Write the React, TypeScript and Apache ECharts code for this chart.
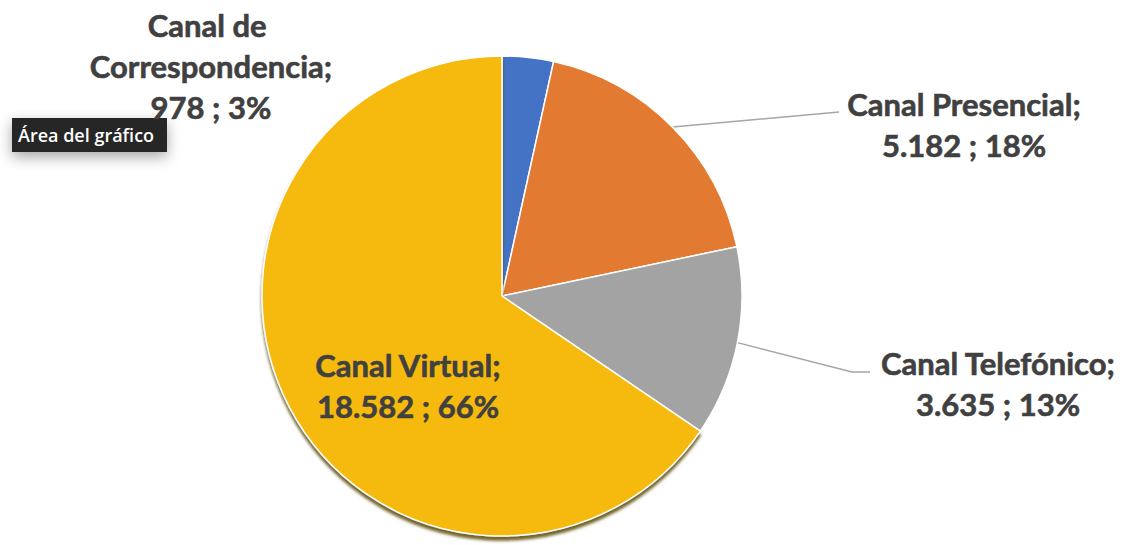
import React, { useEffect, useRef } from "react";
import * as echarts from "echarts";

const categories = ["Canal de Correspondencia", "Canal Presencial", "Canal Telefónico", "Canal Virtual"];
const values = [978, 5182, 3635, 18582];
const colors = ["#4472C4", "#E27A31", "#A3A3A3", "#F5BA0C"];

// label layout (positions only)
const labelPositions = [
  { x: 211, y: 66 },
  { x: 964, y: 124 },
  { x: 998, y: 383 },
  { x: 408, y: 385 },
];
const labelLineEnds: (number[][] | null)[] = [null, [[839, 112]], [[852, 372], [870, 372]], null];

const fmtThousands = (v: number) => String(v).replace(/\B(?=(\d{3})+(?!\d))/g, ".");

export default function App() {
  const ref = useRef<HTMLDivElement>(null);
  useEffect(() => {
    if (!ref.current) return;
    const chart = echarts.init(ref.current, undefined, { renderer: "svg" });
    const labelFont = {
      fontFamily: "Lato",
      fontWeight: "bold" as const,
      fontSize: 31,
      lineHeight: 41,
      color: "#404040",
      textBorderColor: "#404040",
      textBorderWidth: 0.6,
    };
    chart.setOption({
      animation: false,
      backgroundColor: "#ffffff",
      series: [
        {
          type: "pie",
          center: [502, 296],
          radius: 240,
          startAngle: 90,
          clockwise: true,
          percentPrecision: 0,
          avoidLabelOverlap: false,
          itemStyle: { borderColor: "#ffffff", borderWidth: 1.5 },
          label: {
            ...labelFont,
            formatter: (p: any) => `${p.name};\n${fmtThousands(p.value)} ; ${p.percent}%`,
          },
          labelLine: { show: true, lineStyle: { color: "#A6A6A6", width: 1.5 }, smooth: false },
          labelLayout: (params: any) => {
            const pos = labelPositions[params.dataIndex];
            const ends = labelLineEnds[params.dataIndex];
            const res: any = { x: pos.x, y: pos.y, align: "center", verticalAlign: "middle" };
            if (ends && params.labelLinePoints) {
              const start = params.labelLinePoints[0];
              const pts = [start];
              if (ends.length === 1) {
                pts.push([(start[0] + ends[0][0]) / 2, (start[1] + ends[0][1]) / 2]);
              }
              ends.forEach((e) => pts.push(e));
              res.labelLinePoints = pts;
            }
            return res;
          },
          data: categories.map((name, i) => {
            const item: any = { name, value: values[i], itemStyle: { color: colors[i] } };
            if (i === 0) {
              item.label = { width: 300, overflow: "break", align: "center" };
              item.labelLine = { show: false };
            }
            if (i === 3) {
              item.label = { position: "inside" };
              item.labelLine = { show: false };
              item.itemStyle = {
                color: colors[i],
                shadowColor: "rgba(90,70,0,0.85)",
                shadowBlur: 3,
                shadowOffsetY: 4,
              };
            }
            return item;
          }),
        },
      ],
      graphic: [
        {
          type: "group",
          left: 12,
          top: 118,
          z: 100,
          children: [
            {
              type: "rect",
              shape: { x: 0, y: 0, width: 155, height: 34 },
              style: { fill: "#262626", shadowBlur: 14, shadowColor: "rgba(0,0,0,0.35)", shadowOffsetY: 5 },
            },
            {
              type: "text",
              x: 6,
              y: 17,
              style: {
                text: "Área del gráfico",
                fill: "#ffffff",
                font: '600 18px "Open Sans"',
                verticalAlign: "middle",
              },
            },
          ],
        },
      ],
    });
    return () => chart.dispose();
  }, []);
  return (
    <div
      ref={ref}
      style={{ position: "fixed", left: 0, top: 0, width: 1131, height: 545 }}
    />
  );
}
